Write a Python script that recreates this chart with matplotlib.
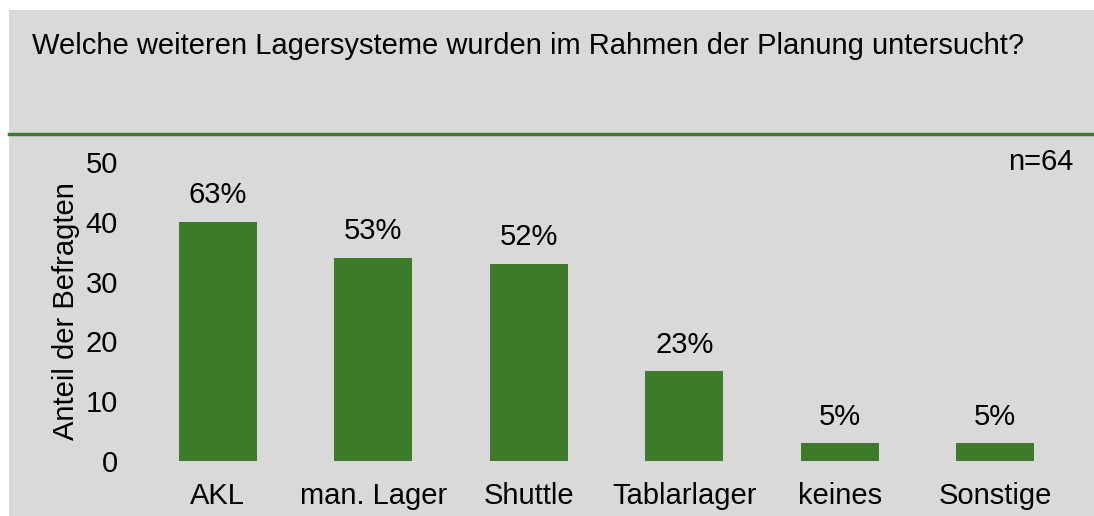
import matplotlib.pyplot as plt
from matplotlib.patches import Rectangle
from matplotlib.lines import Line2D

# data
categories = ["AKL", "man. Lager", "Shuttle", "Tablarlager", "keines", "Sonstige"]
counts = [40, 34, 33, 15, 3, 3]
percent_labels = ["63%", "53%", "52%", "23%", "5%", "5%"]
yticks = [0, 10, 20, 30, 40, 50]

title = "Welche weiteren Lagersysteme wurden im Rahmen der Planung untersucht?"
n_text = "n=64"

plt.rcParams['font.family'] = ['Liberation Sans', 'DejaVu Sans']
W, H = 1094, 516
fs = 21
fig = plt.figure(figsize=(W / 100, H / 100), dpi=100)
fig.patch.set_facecolor('white')

bg = '#D9D9D9'
green = '#3D7A2A'

# gray panel + green divider
fig.patches.append(Rectangle((9 / W, 0), 1 - 9 / W, 1 - 10 / H, transform=fig.transFigure,
                             facecolor=bg, edgecolor='none', zorder=-10))
fig.lines.append(Line2D([9 / W, 1], [1 - 134 / H, 1 - 134 / H], transform=fig.transFigure,
                        color=green, linewidth=2.5, zorder=-5))
fig.text(32 / W, 1 - 46 / H, title, fontsize=fs, va='center', ha='left')

ax = fig.add_axes([140 / W, 1 - 461 / H, (1073 - 140) / W, (461 - 162) / H])
ax.set_facecolor('none')
x = range(len(categories))
ax.bar(x, counts, width=0.5, color=green)
for xi, c, lab in zip(x, counts, percent_labels):
    ax.text(xi, c + 2.1, lab, ha='center', va='bottom', fontsize=fs)

ax.set_xlim(-0.5, len(categories) - 0.5)
ax.set_ylim(0, 50)
ax.set_yticks(yticks)
ax.set_xticks(list(x))
ax.set_xticklabels(categories)
ax.tick_params(axis='both', length=0, labelsize=fs)
ax.tick_params(axis='y', pad=16)
ax.tick_params(axis='x', pad=15)
for s in ax.spines.values():
    s.set_visible(False)
ax.set_ylabel("Anteil der Befragten", fontsize=fs, labelpad=4)
ax.text(1.0, 1.0, n_text, transform=ax.transAxes, ha='right', va='center', fontsize=fs)

fig.savefig('out.png', dpi=100)
